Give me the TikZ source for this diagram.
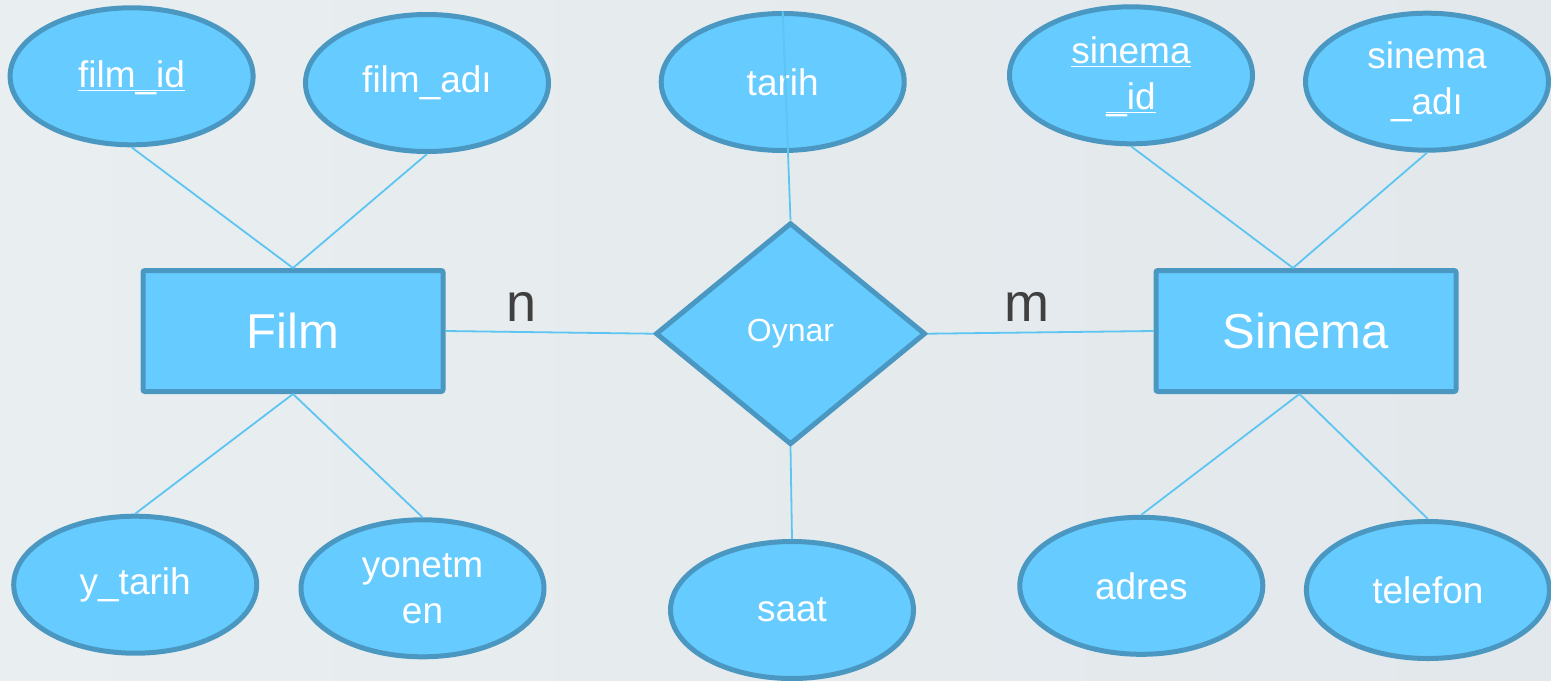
\documentclass[tikz,border=0pt]{standalone}
\usepackage{fontspec}
\setmainfont{Liberation Sans}
\usetikzlibrary{shapes.geometric}
\definecolor{erfill}{RGB}{102,203,255}
\definecolor{erborder}{RGB}{74,152,194}
\definecolor{erline}{RGB}{92,197,242}
\definecolor{bgleft}{RGB}{233,238,240}
\definecolor{bgright}{RGB}{226,232,235}
\definecolor{cardgray}{RGB}{64,64,64}
\newcommand{\ulkey}[1]{\underline{\raisebox{0pt}[\height][0pt]{#1}}}

\begin{document}
\begin{tikzpicture}[x=0.5pt,y=-0.5pt,
    attr/.style={ellipse,draw=erborder,fill=erfill,line width=2.5pt,minimum width=121.5pt,minimum height=68.5pt,inner sep=0pt,text=white,align=center,font=\fontsize{18.5}{23}\selectfont},
    entity/.style={rectangle,draw=erborder,fill=erfill,line width=2.5pt,rounded corners=1pt,minimum width=150pt,minimum height=60.5pt,inner sep=0pt,text=white,font=\fontsize{24.5}{29}\selectfont},
    rel/.style={diamond,draw=erborder,fill=erfill,line width=2.5pt,minimum width=135pt,minimum height=111pt,inner sep=0pt,text=white,font=\fontsize{16}{19}\selectfont},
    card/.style={anchor=base,inner sep=0pt,text=cardgray,font=\fontsize{27}{32}\selectfont},
    link/.style={draw=erline,line width=0.9pt}]

                \shade[left color=bgleft,right color=bgright] (0,0) rectangle (1551,680);
                \useasboundingbox (0,0) rectangle (1551,680);

                \node[entity] (film) at (293,331) {Film};
                \node[entity] (sinema) at (1306,331) {Sinema};
                \node[rel] (oynar) at (790.5,333.7) {Oynar};

                % attributes
                \node[attr] (filmid) at (131.6,76.3) {\ulkey{film\_id}};
                \node[attr] (filmadi) at (427,83) {film\_adı};
                \node[attr] (ytarih) at (135.2,584.7) {y\_tarih};
                \node[attr] (yonetmen) at (422.5,588.3) {yonetm\\en};

                \node[attr] (tarih) at (782.7,82) {tarih};
                \node[attr] (saat) at (792,610) {saat};

                \node[attr] (sinemaid) at (1131,75.3) {\ulkey{sinema}\\\ulkey{\_id}};
                \node[attr] (sinemaadi) at (1427,81.7) {sinema\\\_adı};
                \node[attr] (adres) at (1141.3,585.8) {adres};
                \node[attr] (telefon) at (1427.9,590) {telefon};

                \node[card] (n) at (522,321.7) {n};
                \node[card] (m) at (1027.4,321.7) {m};

                \draw[link] (film.north) to (filmid.south);
                \draw[link] (film.north) to (filmadi.south);
                \draw[link] (film.south) to (ytarih.north);
                \draw[link] (film.south) to (yonetmen.north);

                \draw[link] (film.east) to (oynar.west);
                \draw[link] (oynar.east) to (sinema.west);
                \draw[link] (tarih.north) to (oynar.north);
                \draw[link] (oynar.south) to (saat.north);

                \draw[link] ([xshift=-6.5pt]sinema.north) to (sinemaid.south);
                \draw[link] ([xshift=-6.5pt]sinema.north) to (sinemaadi.south);
                \draw[link] ([xshift=-3.3pt]sinema.south) to (adres.north);
                \draw[link] ([xshift=-3.3pt]sinema.south) to (telefon.north);

            \end{tikzpicture}
\end{document}
